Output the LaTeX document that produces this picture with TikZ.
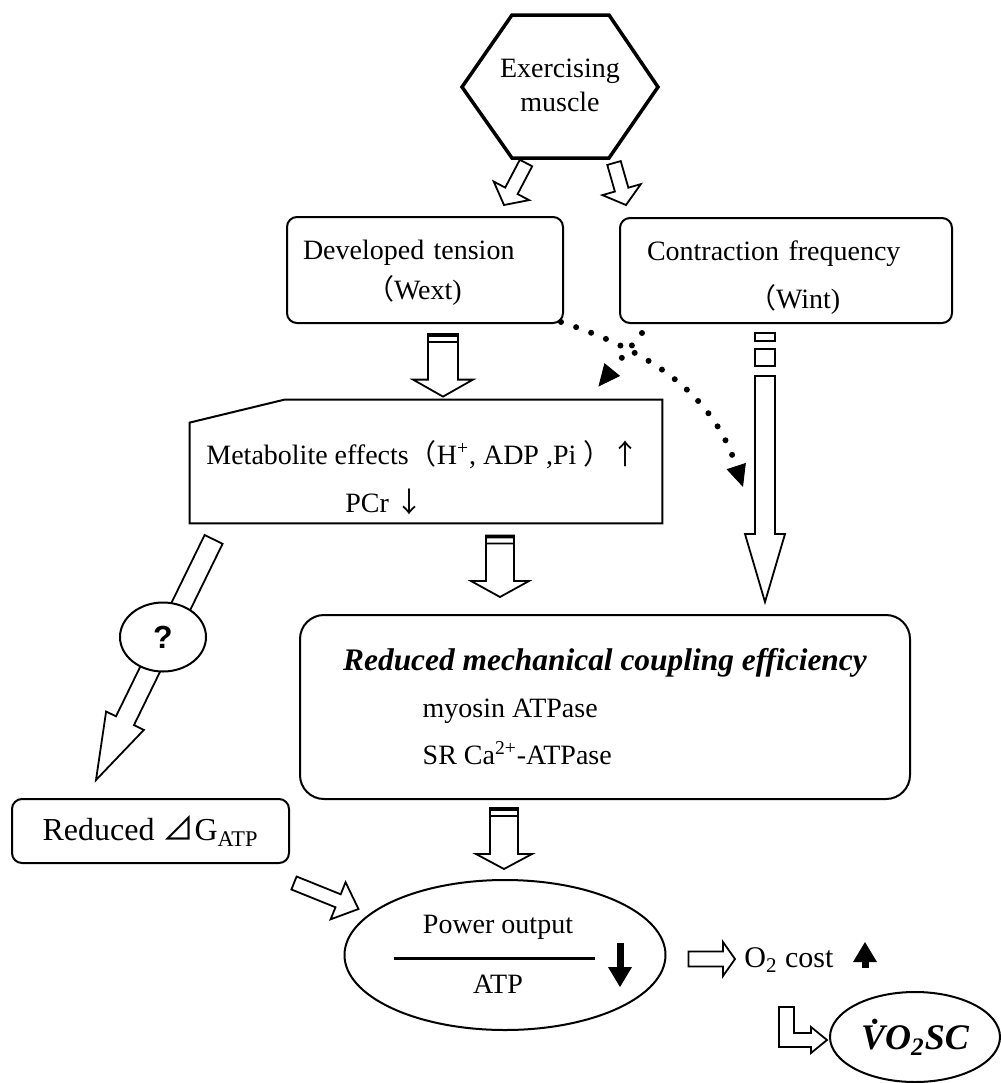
\documentclass[tikz,border=0pt]{standalone}
\usepackage{fontspec}
\setmainfont{Liberation Serif}
\setsansfont{Liberation Sans}
\newfontfamily\cjk{Noto Sans CJK JP}
\usetikzlibrary{positioning,arrows.meta,calc,shapes.geometric}

\begin{document}
\begin{tikzpicture}[
  x=0.5pt, y=-0.5pt,
  font=\fontsize{14}{17}\selectfont,
  box/.style={draw, line width=1pt, rounded corners=5pt, align=left},
  txt/.style={inner sep=0pt},
  hollow/.style={draw, fill=white, line width=0.9pt, line join=miter},
  blockarr/.style n args={3}{to path={
    let \p1=(\tikztostart), \p2=(\tikztotarget),
        \n1={atan2(\y2-\y1,\x2-\x1)}, \n2={veclen(\x2-\x1,\y2-\y1)-#3pt} in
    ($(\p1)+(\n1+90:#1pt)$) -- ($(\p1)+(\n1:\n2)+(\n1+90:#1pt)$)
    -- ($(\p1)+(\n1:\n2)+(\n1+90:#2pt)$) -- (\p2)
    -- ($(\p1)+(\n1:\n2)+(\n1-90:#2pt)$) -- ($(\p1)+(\n1:\n2)+(\n1-90:#1pt)$)
    -- ($(\p1)+(\n1-90:#1pt)$) -- cycle}},
  brokenarr/.style n args={3}{to path={
    let \p1=(\tikztostart), \p2=(\tikztotarget),
        \n1={atan2(\y2-\y1,\x2-\x1)}, \n2={veclen(\x2-\x1,\y2-\y1)-#3pt} in
    ($(\p1)+(\n1+90:#1pt)$) -- ($(\p1)+(\n1:\n2)+(\n1+90:#1pt)$)
    -- ($(\p1)+(\n1:\n2)+(\n1+90:#2pt)$) -- (\p2)
    -- ($(\p1)+(\n1:\n2)+(\n1-90:#2pt)$) -- ($(\p1)+(\n1:\n2)+(\n1-90:#1pt)$)
    -- ($(\p1)+(\n1-90:#1pt)$) -- cycle
    ($(\p1)+(\n1:1pt)+(\n1+90:#1pt)$) -- ($(\p1)+(\n1:1pt)+(\n1-90:#1pt)$)
    ($(\p1)+(\n1:4pt)+(\n1+90:#1pt)$) -- ($(\p1)+(\n1:4pt)+(\n1-90:#1pt)$)}},
  dotarr/.style={line width=3pt, line cap=round, dash pattern=on 0pt off 8pt,
    -{Triangle[length=11pt, width=10pt, line width=0.5pt]}},
  boldarr/.style={line width=3.5pt, -{Triangle[length=10pt, width=12pt, line width=0pt]}},
  ]
  \useasboundingbox (0,0) rectangle (1001,1083);

  % muscle
  \coordinate (hex) at (560,87);
  \draw[line width=1.75pt, line join=miter] ($(hex)+(-98,0)$) -- ($(hex)+(-48,-72)$) -- ($(hex)+(49,-72)$)
    -- ($(hex)+(98,0)$) -- ($(hex)+(49,71)$) -- ($(hex)+(-48,71)$) -- cycle;
  \node[align=center] (mus) at (560,85) {Exercising\\muscle};

  \node[box, minimum width=138pt, minimum height=53pt, text width=122pt, inner xsep=8pt] (dev) at (425,270)
    {\rule{0pt}{12.6pt}Developed tension\\[3pt]\hspace*{31.5pt}{\cjk （}Wext)};
  \node[box, minimum width=166pt, minimum height=52.5pt, text width=139pt, inner xsep=13.5pt] (con) at (786,270.5)
    {\rule{0pt}{16.6pt}Contraction frequency\\[7pt]\hspace*{50.5pt}{\cjk （}Wint)};

  \draw[hollow] ($(hex)+(-34,76)$) to[blockarr={3.5}{10}{8}] ($(dev.north)+(79,-11)$);
  \draw[hollow] ($(hex)+(54,76)$) to[blockarr={3.5}{10}{8}] ($(con.north)+(-160,-12)$);

  % metabolites
  \node[minimum width=236pt, minimum height=61.5pt] (met) at (426,461.5) {};
  \draw[line width=1pt] ($(met.north west)+(0,23)$) -- ($(met.north west)+(95,0)$) -- (met.north east)
    -- (met.south east) -- (met.south west) -- cycle;
  \node[txt, anchor=west] (metfx) at (206,455) {Metabolite effects{\cjk （}H\textsuperscript{+}, ADP ,Pi {\cjk ）↑}};
  \node[txt, anchor=west] (pcr) at (345,502) {PCr {\cjk ↓}};

  \node[box, rounded corners=12pt, minimum width=305pt, minimum height=92pt] (mech) at (605,707)
    {{\fontsize{15.7}{17}\selectfont\textbf{\textit{Reduced mechanical coupling efficiency}}}\\[6.5pt]%
     \hspace*{39.75pt}myosin ATPase\\[6.5pt]\hspace*{39.75pt}SR Ca\textsuperscript{2+}-ATPase};

  \node[box, minimum width=138.5pt, minimum height=32pt, font=\fontsize{16}{19}\selectfont] (red) at (150.5,831)
    {Reduced\ {\cjk ⊿}G\textsubscript{ATP}};

  \draw[hollow] ($(dev.south)+(18,10)$) to[brokenarr={7.5}{15}{8.5}] ($(met.north)+(17,-3)$);
  \draw[hollow] ($(met.south)+(74,12)$) to[brokenarr={7}{14.5}{8}] ($(mech.north)+(-105,-17)$);
  \draw[hollow] ($(mech.south)+(-101,8)$) to[brokenarr={7}{14}{7.5}] ($(mech.south)+(-101,69)$);

  % Wint path
  \draw[hollow] ($(con.south)+(-31,9)$) rectangle ++(20,8);
  \draw[hollow] ($(con.south)+(-31,25)$) rectangle ++(20,17);
  \draw[hollow] ($(con.south)+(-21,52)$) to[blockarr={5}{10}{34}] ($(mech.north)+(160,-12)$);

  \draw[dotarr] ($(dev.south east)+(-3,-2)$) to[out=-18, in=108] ($(mech.north)+(138,-127)$);
  \draw[dotarr] ($(con.south west)+(23,9)$) -- ($(met.north east)+(-64,-13)$);

  \draw[hollow] ($(met.south west)+(24,16)$) to[blockarr={5}{10.5}{33}] ($(red.north west)+(85,-18)$);
  \node[draw, ellipse, line width=1pt, fill=white, minimum width=43pt, minimum height=34.5pt, inner sep=0pt,
    font=\fontsize{16}{18}\selectfont\sffamily\bfseries] (q) at (163,637) {?};

  % power output
  \node[draw, ellipse, line width=1pt, minimum width=160.5pt, minimum height=75pt] (pw) at (505,955) {};
  \node[txt] (pwo) at ($(pw)+(-7,-28)$) {Power output};
  \node[txt] (atp) at ($(pw)+(-7,29)$) {ATP};
  \draw[line width=1.5pt] ($(pw)+(-111,3)$) -- ($(pw)+(90,3)$);
  \draw[boldarr] ($(pw)+(115,-12)$) -- ($(pw)+(115,32)$);

  \draw[hollow] ($(red.south east)+(4,19)$) to[blockarr={3.5}{10}{11}] ($(pw.west)+(15,-46)$);

  \node[txt, anchor=west, font=\fontsize{15}{18}\selectfont] (o2) at (744,960) {O\textsubscript{2} cost};
  \draw[hollow] ($(pw.east)+(22,4)$) to[blockarr={3.75}{8.5}{6}] ($(o2.west)+(-9,-1)$);
  \draw[boldarr] ($(o2.west)+(121,8)$) -- ($(o2.west)+(121,-18)$);

  \node[draw, ellipse, line width=1pt, minimum width=85pt, minimum height=45pt, inner sep=0pt,
    font=\fontsize{18}{20}\selectfont\bfseries\itshape] (vo) at (915,1037) {\.{V}O\textsubscript{2}SC};
  \draw[hollow] ($(vo.west)+(-50,-30)$) -- ++(15,0) -- ++(0,26) -- ++(17,0) -- ++(0,-6) -- ++(16,13)
    -- ++(-16,13) -- ++(0,-6) -- ++(-32,0) -- cycle;
\end{tikzpicture}
\end{document}
